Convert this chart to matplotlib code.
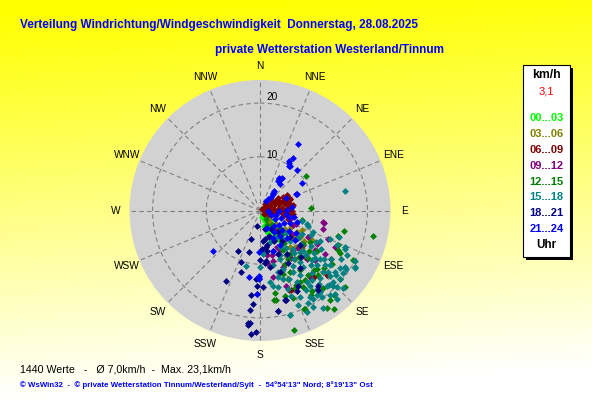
import numpy as np
import matplotlib
matplotlib.use('Agg')
import matplotlib.pyplot as plt
from matplotlib.patches import Rectangle

# values: wind direction (deg) and speed (km/h) per time band
dir_00_03 = [138.7, 139, 138, 139, 140, 153, 152, 153, 151, 150, 149, 158, 157, 166, 167,
             144, 145, 146, 143, 160, 162, 135, 133, 130, 147, 141, 156, 148]
spd_00_03 = [5.6, 4.5, 3.4, 2.3, 1.2, 5.5, 4.4, 3.2, 2.0, 5.6, 4.0, 3.3, 2.2, 1.3, 2.9,
             5.0, 3.8, 2.6, 1.6, 4.5, 3.0, 4.0, 2.8, 1.8, 6.5, 6.8, 6.0, 1.0]

dir_03_06 = [144, 140.7, 123.7, 120, 144, 120.6, 115.6, 126, 128, 135, 132, 138, 142, 148,
             130, 125, 118, 136, 150, 141, 133, 146]
spd_03_06 = [6.9, 8.8, 8.9, 11.1, 11.1, 7.9, 8.6, 5.8, 7.9, 9.5, 10.5, 6.0, 4.5, 7.5,
             4.0, 10.0, 6.5, 12.0, 9.5, 3.0, 2.2, 2.5]

dir_06_09 = [56, 61, 67, 76.7, 86, 85, 96, 94.5, 90, 82.8, 75, 67.5, 63, 63, 104, 77.4, 90,
             50, 45, 55, 70, 80, 100, 110, 72, 58, 65, 88, 95, 100, 106, 83, 78, 52, 40,
             120, 130, 70, 60, 68.7, 60, 72, 80, 90, 85, 65, 75, 92, 98, 58, 68,
             124, 134, 159, 141, 160]
spd_06_09 = [1.1, 3.2, 4.7, 5.4, 5.0, 3.4, 6.2, 4.0, 1.9, 5.9, 4.8, 4.0, 2.1, 0.7, 2.5, 5.7, 4.3,
             2.0, 3.0, 4.2, 2.8, 1.0, 1.2, 2.0, 3.8, 3.5, 5.5, 2.6, 3.0, 4.5, 5.5, 4.2, 2.0, 0.5, 1.5,
             1.5, 1.0, 6.0, 5.8, 6.0, 5.0, 5.0, 6.2, 6.0, 5.6, 3.0, 2.2, 5.2, 5.5, 2.6, 1.6,
             16.0, 17.3, 15.9, 15.9, 15.8]

dir_09_12 = [105, 110, 101, 106, 113, 128.5, 125.7, 126, 142, 155, 171.4, 172.8, 165.4, 100.5,
             114, 119, 165.4, 168.7, 157.6, 153.4, 120.4, 136, 116, 135, 130, 140, 147, 150,
             145, 138, 160, 132, 161, 143, 124]
spd_09_12 = [5.8, 7.2, 12.1, 12.2, 13.7, 10.3, 12.6, 7.3, 7.1, 7.4, 8.4, 9.9, 9.8, 12.0,
             6.8, 10.3, 8.6, 12.6, 11.4, 8.3, 12.2, 12.5, 15.5, 10.0, 8.5, 9.5, 10.6, 6.0,
             4.5, 5.0, 5.5, 13.8, 14.8, 15.5, 14.5]

dir_12_15 = [53, 87, 103.2, 104, 103, 108.4, 118, 118.2, 132.1, 142, 155.9, 164, 169.7, 171,
             159.2, 148.8, 143, 114, 117, 151, 150.5, 154, 170, 155.4, 145.5, 139, 143.4, 147,
             146, 154, 138, 138, 126.6, 130.5, 157.5, 155.9, 163.6, 125, 130, 135, 140, 128,
             122, 145, 150, 155, 160, 136, 132, 141, 147, 150, 143, 137, 132, 140, 147, 153, 143]
spd_12_15 = [10.8, 9.6, 8.1, 16.1, 21.5, 15.3, 16.9, 19.7, 21.3, 21.1, 20.0, 23.1, 15.6, 16.8,
             17.4, 18.5, 22.9, 15.9, 16.3, 15.3, 16.4, 15.5, 16.9, 20.1, 22.0, 20.9, 15.0, 15.5,
             13.4, 12.7, 14.9, 16.2, 16.6, 19.5, 13.8, 15.9, 16.5, 13.0, 11.8, 12.6, 11.2, 10.2,
             11.0, 9.8, 10.5, 11.0, 12.5, 15.2, 16.0, 18.5, 17.8, 8.5, 7.5, 6.0, 5.0, 3.5, 4.5, 3.0, 2.0]

dir_15_18 = [103.5, 107.3, 111.5, 112, 108.6, 114.3, 117.4, 117.8, 120.8, 123.9, 127.2, 132.9,
             134.3, 134.1, 134, 134, 136.2, 139, 149.3, 157.5, 166.4, 172.1, 170, 161.2, 151.6,
             148.4, 146.9, 146.3, 144.1, 143.7, 138.4, 134.4, 135, 133.2, 148.9, 146.3, 164.1,
             152.6, 148.8, 142.6, 142.3, 128.8, 130.2, 128.2, 129.4, 130.5, 140.5, 144.6, 158.2,
             163.5, 180, 162.5, 175.6, 77, 194, 164, 151, 105.7, 116.6, 114.5, 113.3, 121.1,
             123.7, 147.1, 165.2, 167.1, 138.4, 137.2, 130.1, 125, 128, 131, 137, 140, 143, 138,
             132, 127, 122, 119, 124, 121, 126, 141, 150, 153, 155, 157, 160, 145, 141, 146, 152,
             156, 133, 129, 126, 119, 116, 136, 131, 142, 148, 139, 136, 150, 158, 155, 160]
spd_15_18 = [8.0, 9.4, 10.7, 14.0, 15.6, 17.3, 18.2, 20.0, 20.6, 19.4, 19.4, 17.8,
             16.4, 14.7, 13.4, 12.0, 10.7, 9.4, 9.7, 9.7, 10.5, 13.5, 14.2, 13.4, 13.0,
             14.2, 15.9, 16.8, 18.0, 18.8, 18.7, 19.1, 20.2, 21.2, 19.2, 19.0, 20.3,
             19.5, 12.0, 13.3, 12.2, 14.3, 15.8, 16.5, 18.0, 19.6, 20.5, 19.8, 11.7,
             12.0, 10.5, 6.2, 8.1, 16.2, 10.6, 20.2, 20.5, 9.1, 12.5, 15.7, 17.2, 20.6,
             19.0, 21.6, 12.8, 14.7, 20.9, 18.8, 18.6, 11.5, 12.8, 13.5, 14.0, 15.2, 16.2, 16.8,
             17.0, 15.0, 13.5, 12.0, 16.0, 17.5, 18.3, 17.5, 17.0, 15.0, 17.8, 13.9, 15.5, 11.0, 10.2, 8.5, 7.8,
             9.0, 11.0, 9.8, 8.7, 9.0, 10.5, 8.0, 6.5, 6.8, 5.8, 21.8, 19.5, 18.6, 19.0, 20.8, 17.0]

dir_18_21 = [198, 209, 197, 206, 182, 186, 186, 186, 182, 184, 170, 164, 182, 153.3, 143.7,
             170, 177, 173, 180, 170, 177.5, 170, 162, 174, 170, 174.6, 183, 186, 164.4, 169.7,
             155.6, 142.5, 131, 131, 184, 185, 150, 155, 160, 145, 140, 165, 168, 158, 148,
             152, 162, 139, 145, 190, 195, 200]
spd_18_21 = [5.5, 8.6, 12.0, 14.6, 15.6, 18.7, 21.0, 21.4, 22.7, 23.0, 19.0, 17.3, 14.0, 15.8, 18.3,
             5.3, 7.1, 9.4, 9.3, 10.6, 14.2, 7.7, 8.0, 5.8, 6.9, 9.9, 12.7, 15.9, 17.3, 19.1,
             16.5, 17.8, 7.4, 9.8, 17.4, 21.0, 4.0, 6.2, 5.0, 7.0, 5.2, 3.5, 6.5, 8.8, 9.5,
             11.0, 12.0, 11.5, 13.0, 3.0, 8.0, 10.2]

dir_21_24 = [29.6, 32, 31.6, 34.6, 42.6, 56.7, 66.5, 31.5, 37, 33.5, 35.5, 35, 65.4, 84, 37.7,
             66, 30.5, 33, 32, 30, 34, 36, 38, 33, 88, 92, 98, 102,
             105, 110, 112, 118, 120, 125, 128, 132, 135, 138, 142, 147, 150, 155, 158, 162,
             95, 115, 100, 108, 122, 130, 229, 181, 181, 180.5, 189, 182, 181]
spd_21_24 = [14.3, 11.6, 10.3, 10.0, 10.2, 9.4, 7.5, 6.8, 6.2, 7.3, 4.1, 2.7, 5.4, 5.9, 4.0,
             7.4, 10.6, 9.9, 6.5, 6.9, 7.0, 4.4, 3.2, 2.0, 5.0, 3.5, 4.8, 5.5,
             3.0, 4.2, 6.0, 5.0, 3.2, 6.5, 4.5, 5.5, 7.2, 3.8, 6.0, 4.8, 7.5, 5.6, 3.5, 8.0,
             1.5, 2.2, 6.5, 7.2, 7.8, 8.5, 11.5, 7.8, 12.5, 12.2, 12.6, 15.5, 12.7]

bands = ['00...03', '03...06', '06...09', '09...12', '12...15', '15...18', '18...21', '21...24']
band_colors = ['#00ff00', '#808000', '#800000', '#800080', '#008000', '#008080', '#000080', '#0000ff']
band_dirs = [dir_00_03, dir_03_06, dir_06_09, dir_09_12, dir_12_15, dir_15_18, dir_18_21, dir_21_24]
band_spds = [spd_00_03, spd_03_06, spd_06_09, spd_09_12, spd_12_15, spd_15_18, spd_18_21, spd_21_24]

compass = ['N', 'NNE', 'NE', 'ENE', 'E', 'ESE', 'SE', 'SSE',
           'S', 'SSW', 'SW', 'WSW', 'W', 'WNW', 'NW', 'NNW']
rings = [10, 20]
RMAX = 24.3

W, H = 592, 407
def fx(x): return x / W
def fy(y): return 1 - y / H

plain = ['Liberation Sans', 'DejaVu Sans']

fig = plt.figure(figsize=(W / 100, H / 100), dpi=100)

# yellow background fading towards the bottom
bg = fig.add_axes([0, 0, 1, 1])
bg.axis('off')
yy, xx = np.mgrid[0:1:200j, 0:1:300j]
b = np.clip(yy * 1.05 + 0.08 * xx - 0.03, 0, 1)
bg.imshow(np.dstack([np.ones_like(b), np.ones_like(b), b]), aspect='auto',
          extent=[0, 1, 0, 1], origin='upper')

# polar plot, centre ~ (260,210), radius ~130 px
cx, cy, rad = 260, 210.5, 130.5
ax = fig.add_axes([fx(cx - rad), fy(cy + rad), 2 * rad / W, 2 * rad / H], projection='polar')
ax.set_theta_zero_location('N')
ax.set_theta_direction(-1)
ax.set_facecolor('#d2d2d2')
ax.set_ylim(0, RMAX)
ax.spines['polar'].set_visible(False)
ax.set_xticks(np.radians(np.arange(0, 360, 22.5)))
ax.set_xticklabels([])
ax.set_yticks(rings)
ax.set_yticklabels([])
ax.grid(True, color='#808080', linestyle=(0, (4, 3)), linewidth=0.8)

for i, name in enumerate(compass):
    ax.text(np.radians(i * 22.5), RMAX * 1.105, name, ha='center', va='center',
            fontsize=7.3, family=plain, clip_on=False)
for r in rings:
    ax.text(np.radians(12 if r == 10 else 6), r * 1.06, str(r), ha='center', va='center',
            fontsize=7.3, family=plain)

for d, s, c in zip(band_dirs, band_spds, band_colors):
    ax.plot(np.radians(d), s, ls='none', marker='D', ms=3.5, color=c, mew=0, clip_on=False)

# titles
fig.text(fx(20), fy(25), 'Verteilung Windrichtung/Windgeschwindigkeit  Donnerstag, 28.08.2025',
         color='#0000ff', fontsize=8.45, fontweight='bold', family=plain, va='center')
fig.text(fx(215), fy(50), 'private Wetterstation Westerland/Tinnum',
         color='#0000ff', fontsize=8.45, fontweight='bold', family=plain, va='center')

# footer
fig.text(fx(20), fy(369), '1440 Werte   -   Ø 7,0km/h  -  Max. 23,1km/h',
         color='black', fontsize=7.7, family=plain, va='center')
fig.text(fx(20), fy(385.5),
         '© WsWin32  -  © private Wetterstation Tinnum/Westerland/Sylt  -  54°54\'13" Nord; 8°19\'13" Ost',
         color='#0000ff', fontsize=5.7, fontweight='bold', family=plain, va='center')

# legend box with shadow
bx0, by0, bx1, by1 = 523, 65, 570, 257
fig.add_artist(Rectangle((fx(bx0 + 3), fy(by1 + 3)), (bx1 - bx0) / W, (by1 - by0) / H,
                         transform=fig.transFigure, facecolor='black', edgecolor='none'))
fig.add_artist(Rectangle((fx(bx0), fy(by1)), (bx1 - bx0) / W, (by1 - by0) / H,
                         transform=fig.transFigure, facecolor='white', edgecolor='black', lw=0.8))
lx = (bx0 + bx1) / 2
fig.text(fx(lx), fy(75), 'km/h', ha='center', va='center', fontsize=8.8, fontweight='bold', family=plain)
fig.text(fx(lx), fy(92), '3,1', ha='center', va='center', fontsize=8, color='red', family=plain)
for i, (lab, c) in enumerate(zip(bands, band_colors)):
    fig.text(fx(lx), fy(118 + i * 15.9), lab, ha='center', va='center', fontsize=8,
             fontweight='bold', color=c, family=plain)
fig.text(fx(lx), fy(245), 'Uhr', ha='center', va='center', fontsize=8.4, fontweight='bold', family=plain)

fig.savefig('out.png', dpi=100)
